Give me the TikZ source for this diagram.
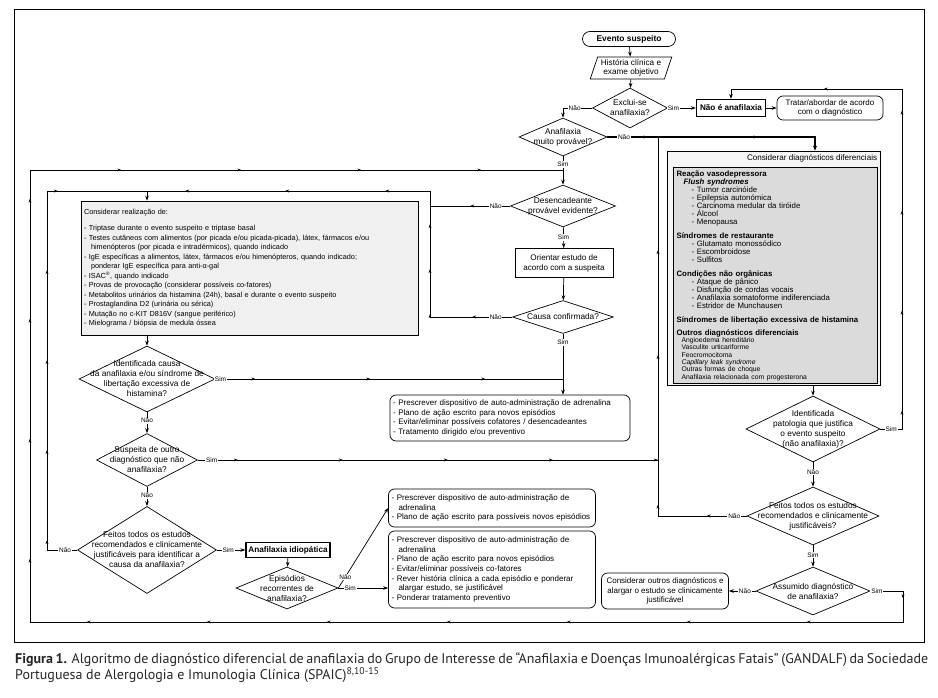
\documentclass[tikz,border=0pt]{standalone}
\usepackage{fontspec}
\setmainfont{Liberation Sans}
\newfontfamily\captionfont{PT Sans}
\usetikzlibrary{shapes.geometric, arrows.meta, positioning, decorations.markings}
\setlength{\parindent}{0pt}
\newcommand{\difitem}{\hspace*{15pt}- }
\tikzset{
    box/.style={
        rectangle, draw=black, line width=0.7pt,
        align=center, inner sep=2pt, font=\fontsize{8}{9.6}\selectfont
    },
    roundbox/.style={box, rounded corners=6pt},
    listbox/.style={
        roundbox, align=left, inner sep=3pt,
        font=\fontsize{8}{9.7}\selectfont
    },
    strongbox/.style={box, line width=1.3pt, font=\fontsize{8.2}{9}\selectfont\bfseries},
    decision/.style={diamond, draw=black, line width=0.7pt, inner sep=0pt},
    dtext/.style={align=center, inner sep=0pt, font=\fontsize{8.3}{10}\selectfont},
    lbl/.style={fill=white, inner sep=0.8pt, font=\fontsize{6.5}{7}\selectfont},
    wire/.style={draw=black, line width=0.7pt},
    arrow/.style={wire, -{Stealth[length=5pt, width=3.6pt]}},
    midarrows/.style={
        postaction={decorate},
        decoration={markings, mark=between positions 40pt and -15pt step #1
            with {\arrow{Stealth[length=4pt, width=3pt]}}}
    },
    midarrows/.default=105pt
}

\begin{document}
\begin{tikzpicture}[x=1pt, y=-1pt, font=\fontsize{8}{9.6}\selectfont]
\useasboundingbox (0,0) rectangle (938,698);
\draw[line width=0.8pt] (14,9) rectangle (924,642);

% Entrada
\node[box, rounded corners=7.5pt, minimum width=93pt, minimum height=15pt, font=\fontsize{8.4}{9}\selectfont\bfseries] (evento) at (629,39) {Evento suspeito};
\node[trapezium, trapezium left angle=70, trapezium right angle=110, trapezium stretches=true, draw=black, line width=0.7pt,
      minimum width=82pt, minimum height=22pt, align=center, inner sep=1pt, font=\fontsize{8.2}{9.2}\selectfont] (historia) at (631,68) {História clínica e\\exame objetivo};
\node[decision, minimum width=75pt, minimum height=40pt, label={[dtext]center:Exclui-se\\anafilaxia?}] (exclui) at (630,108) {};
\node[strongbox, minimum width=69pt, minimum height=17pt] (naoana) at (731,108) {Não é anafilaxia};
\node[roundbox, minimum width=106pt, minimum height=24pt] (tratar) at (830,108) {Tratar/abordar de acordo\\com o diagnóstico};

% Coluna central
\node[decision, minimum width=88pt, minimum height=38pt, label={[dtext]center:Anafilaxia\\muito provável?}] (muitoprov) at (563,137) {};
\node[decision, minimum width=105pt, minimum height=42pt, label={[dtext]center:Desencadeante\\provável evidente?}] (desenc) at (563,206) {};
\node[box, minimum width=98pt, minimum height=29pt, font=\fontsize{8.1}{10}\selectfont] (orientar) at (564,263) {Orientar estudo de\\acordo com a suspeita};
\node[decision, minimum width=101pt, minimum height=33pt, label={[dtext]center:Causa confirmada?}] (confirmada) at (563,317) {};
\node[listbox, text width=234pt, minimum height=46pt] (prescA) at (510,418) {- Prescrever dispositivo de auto-administração de adrenalina\\- Plano de ação escrito para novos episódios\\- Evitar/eliminar possíveis cofatores / desencadeantes\\- Tratamento dirigido e/ou preventivo};

% Estudos
\node[box, fill=gray!12, align=left, text width=331pt, inner sep=3pt, minimum height=134pt, font=\fontsize{7.3}{9.5}\selectfont] (considerar) at (249.5,268) {Considerar realização de:\\[7pt]
- Triptase durante o evento suspeito e triptase basal\\
- Testes cutâneos com alimentos (por picada e/ou picada-picada), látex, fármacos e/ou\\
\hspace*{7pt}himenópteros (por picada e intradérmicos), quando indicado\\
- IgE específicas a alimentos, látex, fármacos e/ou himenópteros, quando indicado;\\
\hspace*{7pt}ponderar IgE específica para anti-α-gal\\
- ISAC\textsuperscript{®}, quando indicado\\
- Provas de provocação (considerar possíveis co-fatores)\\
- Metabolitos urinários da histamina (24h), basal e durante o evento suspeito\\
- Prostaglandina D2 (urinária ou sérica)\\
- Mutação no c-KIT D816V (sangue periférico)\\
- Mielograma / biópsia de medula óssea};

% Coluna esquerda
\node[decision, minimum width=136pt, minimum height=66pt, label={[dtext]center:Identificada causa\\da anafilaxia e/ou síndrome de\\libertação excessiva de\\histamina?}] (idcausa) at (147,379) {};
\node[decision, minimum width=101pt, minimum height=53pt, label={[dtext]center:Suspeita de outro\\diagnóstico que não\\anafilaxia?}] (suspeita) at (147,460) {};
\node[decision, minimum width=139pt, minimum height=87pt, label={[dtext]center:Feitos todos os estudos\\recomendados e clinicamente\\justificáveis para identificar a\\causa da anafilaxia?}] (feitosA) at (147,550) {};
\node[strongbox, minimum width=84pt, minimum height=15pt] (idiop) at (288,550) {Anafilaxia idiopática};
\node[decision, minimum width=102pt, minimum height=42pt, label={[dtext]center:Episódios\\recorrentes de\\anafilaxia?}] (episod) at (287,588) {};
\node[listbox, text width=201pt, minimum height=38pt] (prescB) at (492,508) {- Prescrever dispositivo de auto-administração de\\\hspace*{7pt}adrenalina\\- Plano de ação escrito para possíveis novos episódios};
\node[listbox, text width=201pt, minimum height=77pt] (prescC) at (492,569.5) {- Prescrever dispositivo de auto-administração de\\\hspace*{7pt}adrenalina\\- Plano de ação escrito para novos episódios\\- Evitar/eliminar possíveis co-fatores\\- Rever história clínica a cada episódio e ponderar\\\hspace*{7pt}alargar estudo, se justificável\\- Ponderar tratamento preventivo};

% Diagnosticos diferenciais
\node[rectangle, draw=black, line width=0.7pt, fill=gray!8, minimum width=213pt, minimum height=234pt] (diff) at (773.5,268) {};
\node[anchor=east, inner sep=1pt, font=\fontsize{8.1}{9}\selectfont] (difftitle) at ([xshift=-2pt, yshift=-8pt]diff.north east) {Considerar diagnósticos diferenciais};
\node[draw=black, line width=1.2pt, fill=gray!28, anchor=north west, align=left, text width=198pt, inner xsep=3pt, inner ysep=3pt, font=\fontsize{7.8}{8}\selectfont] (diffin) at (673,167) {%
\textbf{Reação vasodepressora}\\
\hspace*{7pt}\textbf{\itshape Flush syndromes}\\
\difitem Tumor carcinóide\\
\difitem Epilepsia autonómica\\
\difitem Carcinoma medular da tiróide\\
\difitem Álcool\\
\difitem Menopausa\\[6pt]
\textbf{Síndromes de restaurante}\\
\difitem Glutamato monossódico\\
\difitem Escombroidose\\
\difitem Sulfitos\\[6pt]
\textbf{Condições não orgânicas}\\
\difitem Ataque de pânico\\
\difitem Disfunção de cordas vocais\\
\difitem Anafilaxia somatoforme indiferenciada\\
\difitem Estridor de Munchausen\\[6pt]
\textbf{Síndromes de libertação excessiva de histamina}\\[5pt]
\textbf{Outros diagnósticos diferenciais}\par
{\fontsize{6.8}{7.3}\selectfont
\hspace*{5pt}Angioedema hereditário\\
\hspace*{5pt}Vasculite urticariforme\\
\hspace*{5pt}Feocromocitoma\\
\hspace*{5pt}\textit{Capillary leak syndrome}\\
\hspace*{5pt}Outras formas de choque\\
\hspace*{5pt}Anafilaxia relacionada com progesterona\par}};

% Coluna direita
\node[decision, minimum width=134pt, minimum height=66pt, label={[dtext]center:Identificada\\patologia que justifica\\o evento suspeito\\(não anafilaxia)?}] (identpat) at (813,429) {};
\node[decision, minimum width=132pt, minimum height=58pt, label={[dtext]center:Feitos todos os estudos\\recomendados e clinicamente\\justificáveis?}] (feitosB) at (813,516) {};
\node[decision, minimum width=114pt, minimum height=48pt, label={[dtext]center:Assumido diagnóstico\\de anafilaxia?}] (assumido) at (813,591) {};
\node[roundbox, minimum width=127pt, minimum height=36pt] (outros) at (665,591) {Considerar outros diagnósticos e\\alargar o estudo se clinicamente\\justificável};

% Pontos de retorno
\coordinate (outerTop) at (30,170);
\coordinate (innerTop) at (47,191);
\coordinate (naoTop) at (430,191);
\coordinate (busTop) at (658,137);
\coordinate (backTop) at (902,89);
\coordinate (bottomRight) at (903,622);

% Ligacoes
\draw[arrow] (evento) -- (historia);
\draw[arrow] (historia) -- (exclui);
\draw[arrow] (exclui) -- node[lbl, pos=0.2]{Sim} (naoana);
\draw[arrow] (naoana) -- (tratar);
\draw[arrow] (exclui.west) -| node[lbl, pos=0.3]{Não} (muitoprov.north);
\draw[wire] (muitoprov.south) -- node[lbl, pos=0.6]{Sim} (muitoprov.south |- outerTop);
\draw[wire, line width=1.5pt, -{Stealth[length=5pt, width=4pt]}, midarrows=110pt] (muitoprov.east) -| node[lbl, pos=0.04]{Não} ([xshift=41.5pt]diff.north);

\draw[arrow] (desenc) -- node[lbl]{Sim} (orientar);
\draw[arrow] (orientar) -- (confirmada);
\draw[arrow] (confirmada.south) -- node[lbl, pos=0.14]{Sim} (confirmada.south |- prescA.north);
\draw[arrow, midarrows=100pt] (desenc.west) -| node[lbl, pos=0.09]{Não} (naoTop) -| (idcausa.north |- considerar.north);
\draw[wire, midarrows=45pt] (confirmada.west) -| node[lbl, pos=0.1]{Não} (naoTop |- desenc.west);

\draw[arrow] (idcausa.north |- considerar.south) -- (idcausa.north);
\draw[wire, midarrows=115pt] (idcausa.east) -- node[lbl, pos=0.015]{Sim} (idcausa.east -| confirmada.south);
\draw[arrow] (idcausa) -- node[lbl, pos=0.4]{Não} (suspeita);
\draw[wire, midarrows=105pt] (suspeita.east) -| node[lbl, pos=0.015]{Sim} (busTop);
\draw[arrow] (suspeita) -- node[lbl, pos=0.45]{Não} (feitosA);
\draw[wire, midarrows=90pt] (feitosA.west) -| node[lbl, pos=0.2]{Não} (innerTop) -- (idcausa.north |- innerTop);
\draw[arrow] (feitosA) -- node[lbl, pos=0.4]{Sim} (idiop);
\draw[arrow] (idiop) -- (episod);
\draw[arrow] (episod.east) -- ++(7,-11) node[lbl]{Não} -- (prescB.west);
\draw[arrow] (episod.east) -- node[lbl, pos=0.24]{Sim} (episod.east -| prescC.west);

\draw[arrow] (identpat.north |- diff.south) -- (identpat);
\draw[arrow, midarrows=100pt] (identpat.east) -| node[lbl, pos=0.25]{Sim} (backTop) -| (naoana.north);
\draw[arrow] (identpat) -- node[lbl, pos=0.4]{Não} (feitosB);
\draw[wire, midarrows=60pt] (feitosB.west) -| node[lbl, pos=0.07]{Não} (busTop |- suspeita.east);
\draw[arrow] (feitosB) -- node[lbl, pos=0.45]{Sim} (assumido);
\draw[arrow] (assumido) -- node[lbl, pos=0.4]{Não} (outros);
\draw[arrow, midarrows=120pt] (assumido.east) -| node[lbl, pos=0.1]{Sim} (bottomRight) -| (outerTop) -| (desenc.north);

% Legenda
\node[anchor=north west, inner sep=0pt, text width=913pt, align=justify, text=black!85, font=\captionfont\fontsize{14}{16.5}\selectfont] (legenda) at (15,652) {\textbf{Figura 1.} Algoritmo de diagnóstico diferencial de anafilaxia do Grupo de Interesse de “Anafilaxia e Doenças Imunoalérgicas Fatais” (GANDALF) da Sociedade\linebreak Portuguesa de Alergologia e Imunologia Clínica (SPAIC)\textsuperscript{8,10-15}};

\end{tikzpicture}
\end{document}
